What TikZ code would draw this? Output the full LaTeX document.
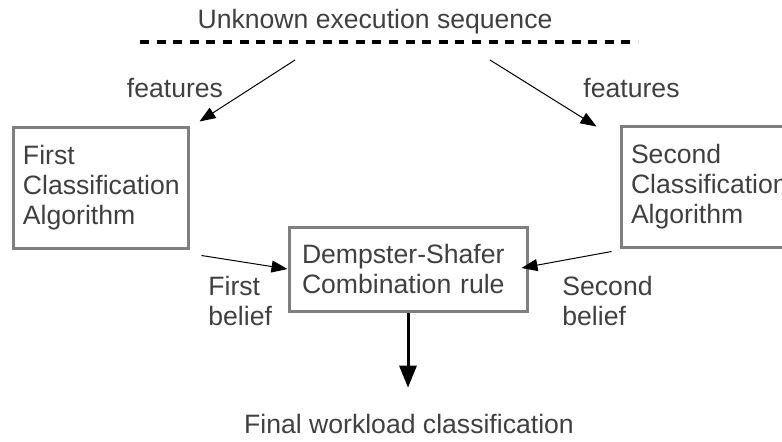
\documentclass[tikz,border=0pt]{standalone}
\usepackage{fontspec}
\setmainfont{Liberation Sans}
\usetikzlibrary{arrows.meta,calc}
\definecolor{cTXT}{HTML}{404040}
\definecolor{cBOX}{HTML}{7F7F7F}

\begin{document}
\begin{tikzpicture}[x=0.5pt, y=-0.5pt, font=\fontsize{13.3}{15}\selectfont, text=cTXT,
  alg/.style={draw=cBOX, line width=1.5pt, minimum width=87.5pt, minimum height=60.5pt,
    text width=77.5pt, inner xsep=5pt, align=left},
  lbl/.style={inner sep=0pt, align=left},
  thinarr/.style={-{Triangle[length=8pt,width=6pt]}, line width=0.5pt},
  bigarr/.style={-{Triangle[length=11pt,width=8.5pt]}, line width=1.5pt}]
\clip (0,0) rectangle (782,441);
\node[anchor=base] (seq) at (375,28) {Unknown execution sequence};
\draw[line width=2pt, dash pattern=on 4.5pt off 3.8pt] (140,42) -- (638,42);
\coordinate (seqL) at (295,60);
\coordinate (seqR) at (490,60);
\node[alg] (alg1) at (100.5,187.5) {First\\ Classification\\ Algorithm};
\node[alg] (alg2) at (708.5,186.5) {Second\\ Classification\\ Algorithm};
\node[alg, minimum width=119pt, minimum height=42pt, text width=106pt, inner xsep=6.5pt] (ds) at (408,269)
  {Dempster-Shafer\\ Combination rule};
\node[anchor=base] (fin) at (409,433) {Final workload classification};
\node[lbl, anchor=base] (feat1) at (175,97) {features};
\node[lbl, anchor=base] (feat2) at (631.5,97) {features};
\node[lbl, anchor=north west] (bel1) at (208,276) {First\\ belief};
\node[lbl, anchor=north west] (bel2) at (562,276) {Second\\ belief};
\draw[thinarr] (seqL) -- ($(alg1.north east)+(10,-4)$);
\draw[thinarr] (seqR) -- ($(alg2.north west)+(-23,2)$);
\draw[thinarr] ($(alg1.south east)+(12,6)$) -- (ds.west);
\draw[thinarr] ($(alg2.south west)+(-8,3)$) -- ($(ds.east)+(-7,-1)$);
\draw[bigarr, shorten >=9.5pt] (ds.south) -- (ds.south |- fin.north);
\end{tikzpicture}
\end{document}
